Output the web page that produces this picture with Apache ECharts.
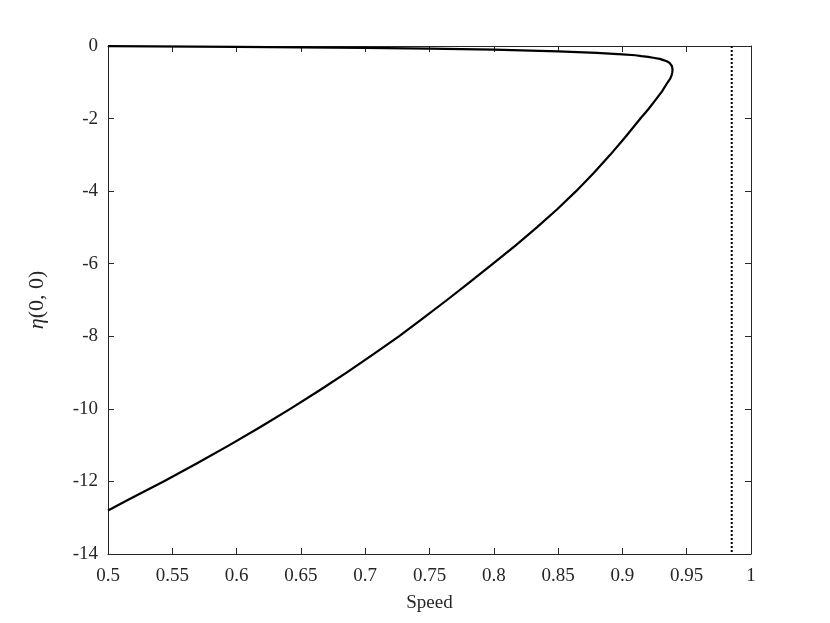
<!DOCTYPE html>
<html>
<head>
<meta charset="utf-8">
<script src="https://cdn.jsdelivr.net/npm/echarts@6/dist/echarts.min.js"></script>
<style>
html, body { margin: 0; padding: 0; background: #fff; }
#main { width: 830px; height: 623px; }
</style>
</head>
<body>
<div id="main"></div>
<script>
"use strict";
// curve: upper branch -> nose -> lower branch
var speed = [0.5, 0.6, 0.7, 0.75, 0.8, 0.85, 0.87, 0.88, 0.89, 0.9, 0.91, 0.915, 0.92, 0.925, 0.929, 0.932, 0.9345, 0.9365, 0.9378, 0.9385, 0.9389, 0.939, 0.9388, 0.9383,
    0.9372, 0.9352, 0.9308, 0.9255, 0.92, 0.914, 0.9025, 0.8905, 0.8777, 0.864, 0.8493, 0.8335, 0.8168, 0.7994, 0.7816, 0.7636, 0.7451, 0.7262,
    0.7062, 0.6855, 0.664, 0.6417, 0.6185, 0.5944, 0.5693, 0.5432, 0.5161, 0.5];
var eta = [-0.005, -0.025, -0.05, -0.07, -0.1, -0.15, -0.175, -0.19, -0.21, -0.23, -0.255, -0.28, -0.3, -0.33, -0.355, -0.39, -0.42, -0.46, -0.505, -0.55, -0.6, -0.66, -0.72, -0.8,
    -0.9, -1.0, -1.25, -1.5, -1.75, -2.0, -2.5, -3.0, -3.5, -4.0, -4.5, -5.0, -5.5, -6.0, -6.5, -7.0, -7.5, -8.0,
    -8.5, -9.0, -9.5, -10.0, -10.5, -11.0, -11.5, -12.0, -12.5, -12.8];
// dotted vertical limit
var limitSpeed = [0.985, 0.985];
var limitEta = [0, -14];

var curve = speed.map(function (s, i) { return [s, eta[i]]; });
var limit = limitSpeed.map(function (s, i) { return [s, limitEta[i]]; });

var font = "Liberation Serif";
var axisCol = "#262626";

var chartDom = document.getElementById('main');
var myChart = echarts.init(chartDom);

function xAx(pos, show) {
    return {
        type: 'value', position: pos, min: 0.5, max: 1, interval: 0.05,
        name: show ? 'Speed' : '', nameLocation: 'middle', nameGap: 40,
        nameTextStyle: { fontFamily: font, fontSize: 19, color: axisCol },
        axisLine: { show: true, onZero: false, lineStyle: { color: axisCol, width: 1 } },
        axisTick: { show: true, inside: true, length: 6, lineStyle: { color: axisCol } },
        axisLabel: {
            show: show, margin: 13, fontFamily: font, fontSize: 19, color: axisCol,
            formatter: function (v) { return +v.toFixed(2) + ''; }
        },
        splitLine: { show: false }
    };
}
function yAx(pos, show) {
    return {
        type: 'value', position: pos, min: -14, max: 0, interval: 2,
        name: show ? '{i|η}(0, 0)' : '', nameLocation: 'middle', nameGap: 60,
        nameTextStyle: {
            fontFamily: font, fontSize: 22, color: axisCol,
            rich: { i: { fontFamily: font, fontSize: 22, fontStyle: 'italic', color: axisCol } }
        },
        axisLine: { show: true, onZero: false, lineStyle: { color: axisCol, width: 1 } },
        axisTick: { show: true, inside: true, length: 6, lineStyle: { color: axisCol } },
        axisLabel: { show: show, margin: 10, fontFamily: font, fontSize: 19, color: axisCol },
        splitLine: { show: false }
    };
}

var option = {
    backgroundColor: '#fff',
    animation: false,
    grid: { left: 108, right: 79, top: 46, bottom: 69 },
    xAxis: [xAx('bottom', true), xAx('top', false)],
    yAxis: [yAx('left', true), yAx('right', false)],
    series: [
        {
            type: 'line', data: curve, showSymbol: false, smooth: false,
            lineStyle: { color: '#000', width: 2.2, join: 'round' }
        },
        {
            type: 'line', data: limit, showSymbol: false,
            lineStyle: { color: '#000', width: 2, type: [2, 2] }
        }
    ]
};
myChart.setOption(option);
</script>
</body>
</html>
